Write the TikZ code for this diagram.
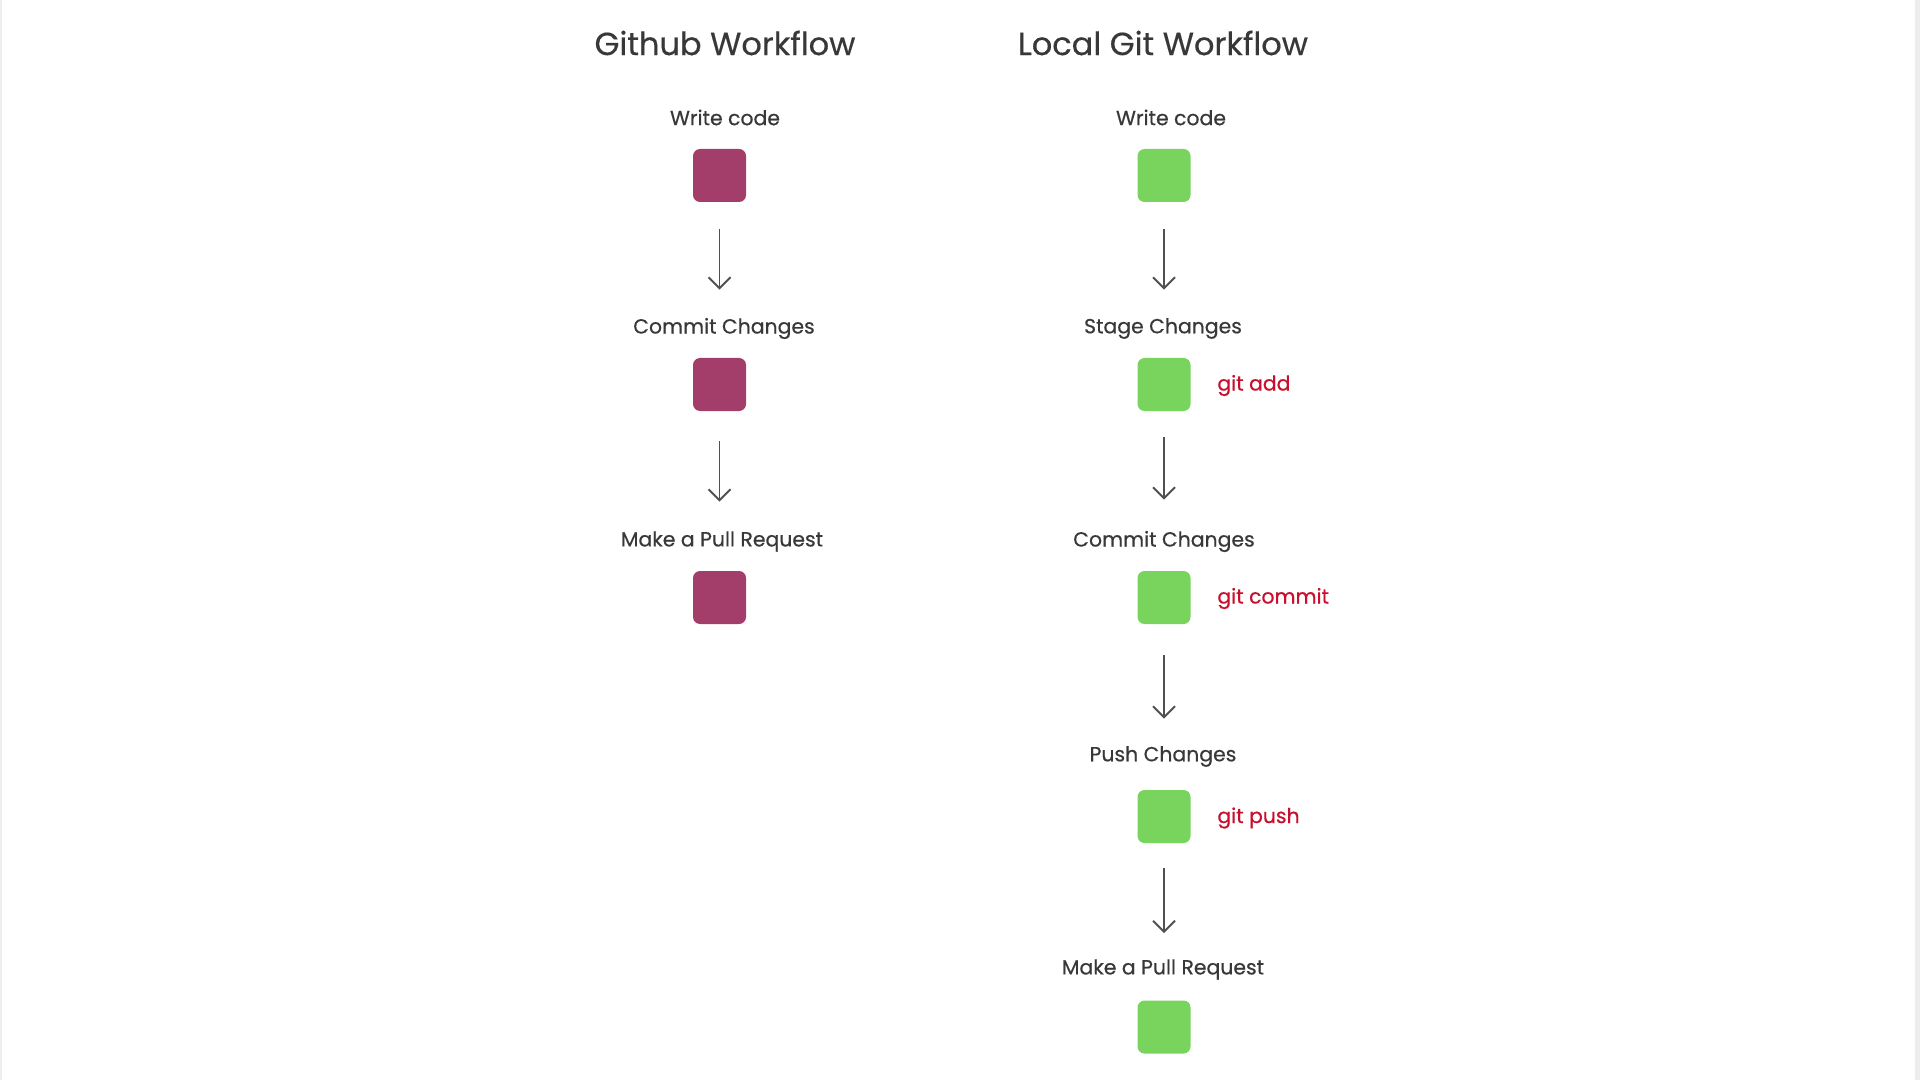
\documentclass[tikz,border=0pt]{standalone}
\usepackage{fontspec}
\setmainfont{Poppins}
\newfontfamily\lblfont[FakeBold=0.5]{Poppins}
\newfontfamily\ttlfont[FakeBold=0.4]{Poppins}
\usetikzlibrary{arrows.meta}
\definecolor{txt}{HTML}{383838}
\definecolor{ghbox}{HTML}{A33D6A}
\definecolor{gitbox}{HTML}{79D45E}
\definecolor{cmd}{HTML}{C8102E}
\definecolor{arrcol}{HTML}{505050}
\tikzset{
  title/.style={text=txt, font=\ttlfont\fontsize{16}{18}\selectfont, inner sep=0pt, anchor=center},
  lbl/.style={text=txt, font=\lblfont\fontsize{10.2}{12}\selectfont, inner sep=0pt, anchor=center},
  cmdlbl/.style={text=cmd, font=\lblfont\fontsize{10.2}{12}\selectfont, inner sep=0pt, anchor=west},
  ghsq/.style={fill=ghbox, draw=none, rounded corners=3.5pt, minimum size=26.5pt, inner sep=0pt},
  gitsq/.style={fill=gitbox, draw=none, rounded corners=3.5pt, minimum size=26.5pt, inner sep=0pt},
  arr/.style={draw=arrcol, line width=0.95pt, -{Straight Barb[length=5.5pt,width=11pt]}}
}
\begin{document}
\begin{tikzpicture}[x=0.5pt,y=-0.5pt]
\useasboundingbox (0,0) rectangle (1920,1080);
\fill[white] (0,0) rectangle (1920,1080);
\fill[black!7] (0,0) rectangle (2,1080);
\fill[black!7] (1915,0) rectangle (1920,1080);

% titles
\node[title] (t1) at (725,43) {Github Workflow};
\node[title] (t2) at (1163,43) {Local Git Workflow};

% left column
\node[lbl] (gl1) at (725,117.5) {Write code};
\node[ghsq] (gb1) at (719.5,175.5) {};
\node[lbl] (gl2) at (724,328.5) {Commit Changes};
\node[ghsq] (gb2) at (719.5,384.5) {};
\node[lbl] (gl3) at (722,541.5) {Make a Pull Request};
\node[ghsq] (gb3) at (719.5,597.5) {};

\draw[arr, shorten <=13.5pt, shorten >=34pt] (gb1.south) -- (gb2.north);
\draw[arr, shorten <=15pt, shorten >=34.5pt] (gb2.south) -- (gb3.north);

% right column
\node[lbl] (rl1) at (1171,117.5) {Write code};
\node[gitsq] (rb1) at (1164,175.5) {};
\node[lbl] (rl2) at (1163,328.5) {Stage Changes};
\node[gitsq] (rb2) at (1164,384.5) {};
\node[cmdlbl] (c2) at (1217,385.5) {git add};
\node[lbl] (rl3) at (1164,541.5) {Commit Changes};
\node[gitsq] (rb3) at (1164,597.5) {};
\node[cmdlbl] (c3) at (1217,598.5) {git commit};
\node[lbl] (rl4) at (1163,756.5) {Push Changes};
\node[gitsq] (rb4) at (1164,816.5) {};
\node[cmdlbl] (c4) at (1217,818) {git push};
\node[lbl] (rl5) at (1163,969.5) {Make a Pull Request};
\node[gitsq] (rb5) at (1164,1027) {};

\draw[arr, shorten <=13.5pt, shorten >=34pt] (rb1.south) -- (rb2.north);
\draw[arr, shorten <=13pt, shorten >=35.5pt] (rb2.south) -- (rb3.north);
\draw[arr, shorten <=15.5pt, shorten >=35.5pt] (rb3.south) -- (rb4.north);
\draw[arr, shorten <=12.5pt, shorten >=33.5pt] (rb4.south) -- (rb5.north);
\end{tikzpicture}
\end{document}
